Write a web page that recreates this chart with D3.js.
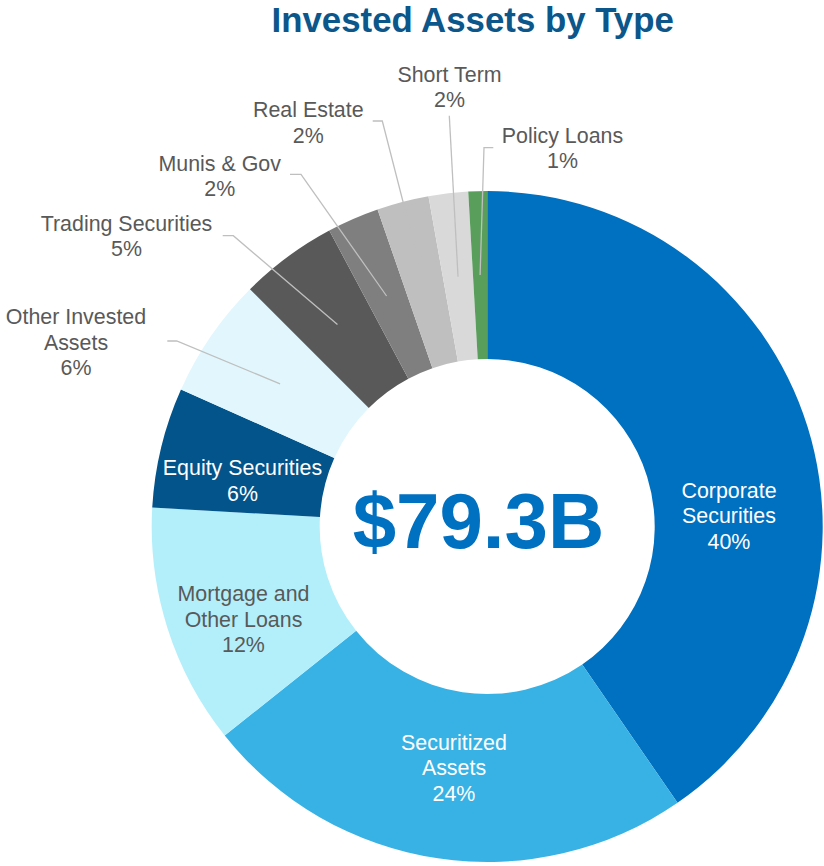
<!DOCTYPE html>
<html>
<head>
<meta charset="utf-8">
<script src="https://cdn.jsdelivr.net/npm/d3@7"></script>
<style>
  body { margin: 0; background: #fff; }
  svg text { font-family: "Liberation Sans", Arial, sans-serif; }
</style>
</head>
<body>
<svg id="chart"></svg>
<script>
// data, clockwise from 12 o'clock
const categories = ['Corporate Securities', 'Securitized Assets', 'Mortgage and Other Loans',
  'Equity Securities', 'Other Invested Assets', 'Trading Securities', 'Munis & Gov',
  'Real Estate', 'Short Term', 'Policy Loans']
const labelLines = [['Corporate', 'Securities'], ['Securitized', 'Assets'], ['Mortgage and', 'Other Loans'],
  ['Equity Securities'], ['Other Invested', 'Assets'], ['Trading Securities'], ['Munis & Gov'],
  ['Real Estate'], ['Short Term'], ['Policy Loans']]
const values = [40.4, 23.9, 11.6, 5.8, 5.8, 4.7, 2.5, 2.5, 1.9, 0.9]
const pctLabels = ['40%', '24%', '12%', '6%', '6%', '5%', '2%', '2%', '2%', '1%']
const colors = ['#0070C0', '#38B2E4', '#B3EFFB', '#02548A', '#E1F7FD',
  '#595959', '#7F7F7F', '#BFBFBF', '#D9D9D9', '#5A9E5C']
const total = '$79.3B'

const WIDTH = 824
const HEIGHT = 866
const CX = 487.2
const CY = 526.5
const OUTER = 335.5
const INNER = 167.5
const LINE_H = 25.5

// label placement (first baseline) and leader elbows, by slice index
const labelLayout = [
  {x: 729, y: 497.5, fill: '#fff'},
  {x: 454, y: 749.5, fill: '#fff'},
  {x: 243.5, y: 601, fill: '#595959'},
  {x: 242.5, y: 475, fill: '#fff'},
  {x: 76, y: 324, fill: '#595959', leader: [[167.3, 341], [176.7, 341]]},
  {x: 126.5, y: 230.7, fill: '#595959', leader: [[222.7, 235.7], [233.3, 235.7]]},
  {x: 219.7, y: 170.7, fill: '#595959', leader: [[290, 174.3], [301, 174.3]]},
  {x: 308.3, y: 117.3, fill: '#595959', leader: [[372.7, 121], [382.3, 121]]},
  {x: 449.5, y: 81.7, fill: '#595959', leader: [[449.3, 115.7]]},
  {x: 562.5, y: 142.7, fill: '#595959', leader: [[493.3, 147.7], [484, 147.7]]}
]

const svg = d3.select('#chart')
  .attr('width', WIDTH)
  .attr('height', HEIGHT)

svg.append('text')
  .attr('x', 472.7)
  .attr('y', 31.7)
  .attr('text-anchor', 'middle')
  .attr('font-size', 34.8)
  .attr('font-weight', 'bold')
  .attr('fill', '#0B568A')
  .text('Invested Assets by Type')

const pie = d3.pie().sort(null).value(d => d)
const arcs = pie(values)
const arc = d3.arc().innerRadius(INNER).outerRadius(OUTER)

const g = svg.append('g')
  .attr('transform', `translate(${CX},${CY})`)

g.selectAll('.slice')
  .data(arcs)
  .enter().append('path')
    .attr('class', 'slice')
    .attr('d', arc)
    .attr('fill', (d, i) => colors[i])

// leader lines: label elbow -> slice centroid
const line = d3.line()
svg.append('g')
  .attr('class', 'leaders')
  .selectAll('path')
  .data(arcs.filter((d, i) => labelLayout[i].leader))
  .enter().append('path')
    .attr('d', d => {
      const c = arc.centroid(d)
      const pts = labelLayout[d.index].leader.concat([[c[0] + CX, c[1] + CY]])
      return line(pts)
    })
    .attr('fill', 'none')
    .attr('stroke', '#BFBFBF')
    .attr('stroke-width', 1.3)

const labels = svg.append('g').attr('class', 'labels')
  .selectAll('text')
  .data(arcs)
  .enter().append('text')
    .attr('text-anchor', 'middle')
    .attr('font-size', 21.4)
    .attr('fill', d => labelLayout[d.index].fill)

labels.each(function(d) {
  const lay = labelLayout[d.index]
  const lines = labelLines[d.index].concat([pctLabels[d.index]])
  d3.select(this).selectAll('tspan')
    .data(lines)
    .enter().append('tspan')
      .attr('x', lay.x)
      .attr('y', (t, j) => lay.y + j * LINE_H)
      .text(t => t)
})

svg.append('text')
  .attr('x', 478.5)
  .attr('y', 548)
  .attr('text-anchor', 'middle')
  .attr('font-size', 78)
  .attr('font-weight', 'bold')
  .attr('fill', '#0070C0')
  .text(total)
</script>
</body>
</html>
